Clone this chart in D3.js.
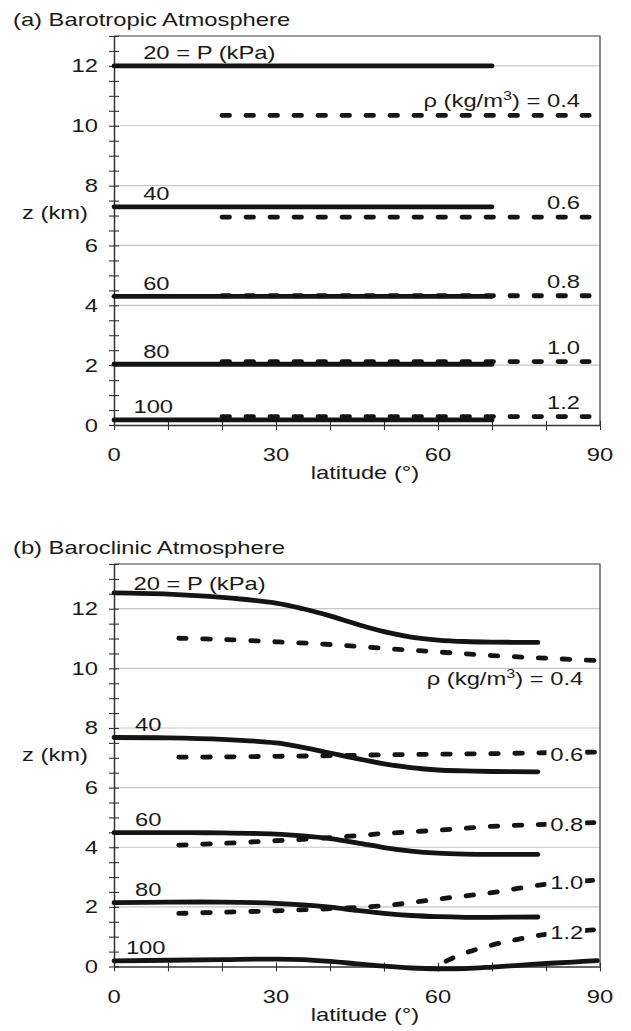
<!DOCTYPE html>
<meta charset="utf-8">
<html>
<head>
<style>
  body { margin: 0; background: #fff; }
  svg text { font-family: "Liberation Sans", Arial, Helvetica, sans-serif; font-size: 19px; fill: #1a1a1a; }
</style>
</head>
<body>
<div id="chart"></div>
<script src="https://d3js.org/d3.v7.min.js"></script>
<script>
// ---- data ----
// (a) barotropic: flat isobars and isopycnals
var aPressLabels = ["20 = P (kPa)", "40", "60", "80", "100"];
var aPressLat = [0, 70];
var aPressZ = [12.0, 7.29, 4.30, 2.03, 0.17];
var aDensLabels = ["0.4", "0.6", "0.8", "1.0", "1.2"];
var aDensLat = [20, 88];
var aDensZ = [10.35, 6.95, 4.32, 2.12, 0.28];

// (b) baroclinic: sloping isobars / isopycnals
var bPressLabels = ["20 = P (kPa)", "40", "60", "80", "100"];
var bPressLat = [0, 10, 20, 30, 35, 40, 45, 50, 55, 60, 65, 70, 78.5];
var bP20 = [12.53, 12.49, 12.38, 12.19, 12.0, 11.76, 11.48, 11.23, 11.05, 10.95, 10.90, 10.88, 10.87];
var bP40 = [7.68, 7.67, 7.62, 7.50, 7.35, 7.16, 6.97, 6.80, 6.67, 6.59, 6.56, 6.54, 6.53];
var bP60 = [4.49, 4.49, 4.48, 4.44, 4.38, 4.29, 4.15, 3.99, 3.87, 3.80, 3.77, 3.76, 3.76];
var bP80 = [2.14, 2.16, 2.16, 2.12, 2.07, 1.99, 1.88, 1.78, 1.71, 1.67, 1.65, 1.65, 1.66];
var bP100Lat = [0, 10, 20, 30, 35, 40, 45, 50, 55, 60, 65, 70, 75, 80, 85, 89.5];
var bP100 = [0.19, 0.21, 0.23, 0.25, 0.23, 0.17, 0.09, 0.01, -0.05, -0.08, -0.07, -0.02, 0.04, 0.10, 0.15, 0.20];

var bDensLabels = ["0.4", "0.6", "0.8", "1.0", "1.2"];
var bDensLat = [12, 20, 30, 40, 50, 60, 70, 80, 89.5];
var bD04 = [11.01, 10.97, 10.89, 10.80, 10.67, 10.55, 10.43, 10.34, 10.26];
var bD06 = [7.02, 7.03, 7.05, 7.07, 7.10, 7.12, 7.14, 7.17, 7.19];
var bD08 = [4.07, 4.13, 4.22, 4.32, 4.46, 4.57, 4.70, 4.77, 4.83];
var bD10 = [1.78, 1.82, 1.87, 1.94, 2.04, 2.26, 2.48, 2.76, 2.90];
var bD12Lat = [61.5, 65, 70, 75, 80, 85, 89.5];
var bD12 = [0.18, 0.45, 0.72, 0.92, 1.08, 1.17, 1.24];

var latTicks = [0, 30, 60, 90];

// ---- drawing ----
var svg = d3.select("#chart").append("svg")
  .attr("width", 631)
  .attr("height", 1031);

var left = 114, right = 600;
var ink = "#141414";

function label(g, x, y, txt, anchor) {
  return g.append("g")
      .attr("transform", "translate(" + x + "," + y + ") scale(1.25,1)")
    .append("text")
      .attr("text-anchor", anchor || "start")
      .text(txt);
}

function rhoLabel(g, x, y, val) {
  var t = g.append("g")
      .attr("transform", "translate(" + x + "," + y + ") scale(1.25,1)")
    .append("text")
      .attr("text-anchor", "end");
  t.append("tspan").text("ρ (kg/m");
  t.append("tspan").attr("dy", -7).style("font-size", "13px").text("3");
  t.append("tspan").attr("dy", 7).text(") = " + val);
}

// label sitting on a line, with white box behind it
function boxLabel(g, x, y, txt) {
  var gg = g.append("g")
    .attr("transform", "translate(" + x + "," + y + ") scale(1.25,1)");
  var r = gg.append("rect").attr("fill", "#fff");
  var t = gg.append("text").attr("text-anchor", "end").text(txt);
  var b = t.node().getBBox();
  r.attr("x", b.x - 3).attr("y", b.y + 3).attr("width", b.width + 4.5).attr("height", b.height - 6);
}

function panel(opt) {
  var g = svg.append("g");
  var x = d3.scaleLinear().domain([0, 90]).range([left, right]);
  var y = d3.scaleLinear().domain([0, opt.zMax]).range([opt.bottom, opt.top]);

  // grid
  g.append("g").selectAll("line")
    .data(d3.range(2, opt.zMax, 2))
    .enter().append("line")
      .attr("x1", left).attr("x2", right)
      .attr("y1", function(d) { return y(d); })
      .attr("y2", function(d) { return y(d); })
      .attr("stroke", "#c6c6c6")
      .attr("stroke-width", 1.2);

  // frame top/right
  g.append("path")
    .attr("d", "M" + left + "," + opt.top + "H" + right + "V" + opt.bottom)
    .attr("fill", "none")
    .attr("stroke", "#3a3a3a")
    .attr("stroke-width", 1.2);

  // axes
  var ya = g.append("g")
    .attr("transform", "translate(" + left + ",0)")
    .call(d3.axisLeft(y)
      .tickValues(d3.range(0, opt.zMax + 0.01, 0.5))
      .tickSize(5).tickSizeOuter(0).tickFormat(""));
  ya.selectAll(".tick line").attr("x1", 5).attr("stroke", "#333").attr("stroke-width", 1.1);
  ya.select(".domain").attr("stroke", "#333").attr("stroke-width", 1.5);

  var xa = g.append("g")
    .attr("transform", "translate(0," + opt.bottom + ")")
    .call(d3.axisBottom(x)
      .tickValues(d3.range(0, 91, 10))
      .tickSize(5).tickSizeOuter(0).tickFormat(""));
  xa.selectAll(".tick line").attr("y1", -4).attr("stroke", "#333").attr("stroke-width", 1.1);
  xa.select(".domain").attr("stroke", "#333").attr("stroke-width", 1.5);

  // tick labels
  d3.range(0, 12.01, 2).forEach(function(v) {
    label(g, 98, y(v) + 6.5, String(v), "end");
  });
  latTicks.forEach(function(v) {
    label(g, x(v), opt.bottom + 36, String(v), "middle");
  });
  label(g, 365, opt.bottom + 54, "latitude (°)", "middle");
  label(g, 88, y(6.9), "z (km)", "end");
  label(g, 13, opt.top - 10, opt.title, "start");

  var line = d3.line()
    .x(function(d) { return x(d[0]); })
    .y(function(d) { return y(d[1]); })
    .curve(d3.curveCatmullRom.alpha(0.5));

  opt.dens.forEach(function(s) {
    g.append("path")
      .datum(d3.zip(s.lat, s.z))
      .attr("fill", "none")
      .attr("stroke", ink)
      .attr("stroke-width", 4.8)
      .attr("stroke-linecap", "round")
      .attr("stroke-dasharray", "7.5,16.5")
      .attr("d", line);
  });
  opt.press.forEach(function(s) {
    g.append("path")
      .datum(d3.zip(s.lat, s.z))
      .attr("fill", "none")
      .attr("stroke", ink)
      .attr("stroke-width", 4.8)
      .attr("stroke-linecap", "round")
      .attr("d", line);
  });

  return {g: g, x: x, y: y};
}

// (a)
var pa = panel({
  title: "(a) Barotropic Atmosphere",
  top: 36, bottom: 425, zMax: 13,
  press: aPressZ.map(function(z) { return {lat: aPressLat, z: [z, z]}; }),
  dens: aDensZ.map(function(z) { return {lat: aDensLat, z: [z, z]}; })
});
aPressLabels.forEach(function(t, i) {
  var lx = i === 4 ? 3.6 : 5.4;
  label(pa.g, pa.x(lx), pa.y(aPressZ[i]) - 6.5, t, "start");
});
aDensLabels.forEach(function(t, i) {
  if (i === 0) rhoLabel(pa.g, pa.x(86.3), pa.y(aDensZ[i]) - 8.5, t);
  else label(pa.g, pa.x(86.3), pa.y(aDensZ[i]) - 8, t, "end");
});

// (b)
var bPress = [bP20, bP40, bP60, bP80];
var pb = panel({
  title: "(b) Baroclinic Atmosphere",
  top: 564, bottom: 966.5, zMax: 13.5,
  press: bPress.map(function(z) { return {lat: bPressLat, z: z}; })
    .concat([{lat: bP100Lat, z: bP100}]),
  dens: [bD04, bD06, bD08, bD10].map(function(z) { return {lat: bDensLat, z: z}; })
    .concat([{lat: bD12Lat, z: bD12}])
});
var bPressFirst = [bP20[0], bP40[0], bP60[0], bP80[0], bP100[0]];
bPressLabels.forEach(function(t, i) {
  var lx = i === 0 ? 3.6 : (i === 4 ? 2.2 : 3.9);
  var off = i === 0 ? -3 : -7;
  label(pb.g, pb.x(lx), pb.y(bPressFirst[i]) + off, t, "start");
});
rhoLabel(pb.g, pb.x(86.9), pb.y(9.45), bDensLabels[0]);
var bDensLast = [bD06[bD06.length - 1], bD08[bD08.length - 1], bD10[bD10.length - 1], bD12[bD12.length - 1]];
bDensLabels.slice(1).forEach(function(t, i) {
  boxLabel(pb.g, pb.x(86.9), pb.y(bDensLast[i]) + 9, t);
});
</script>
</body>
</html>
